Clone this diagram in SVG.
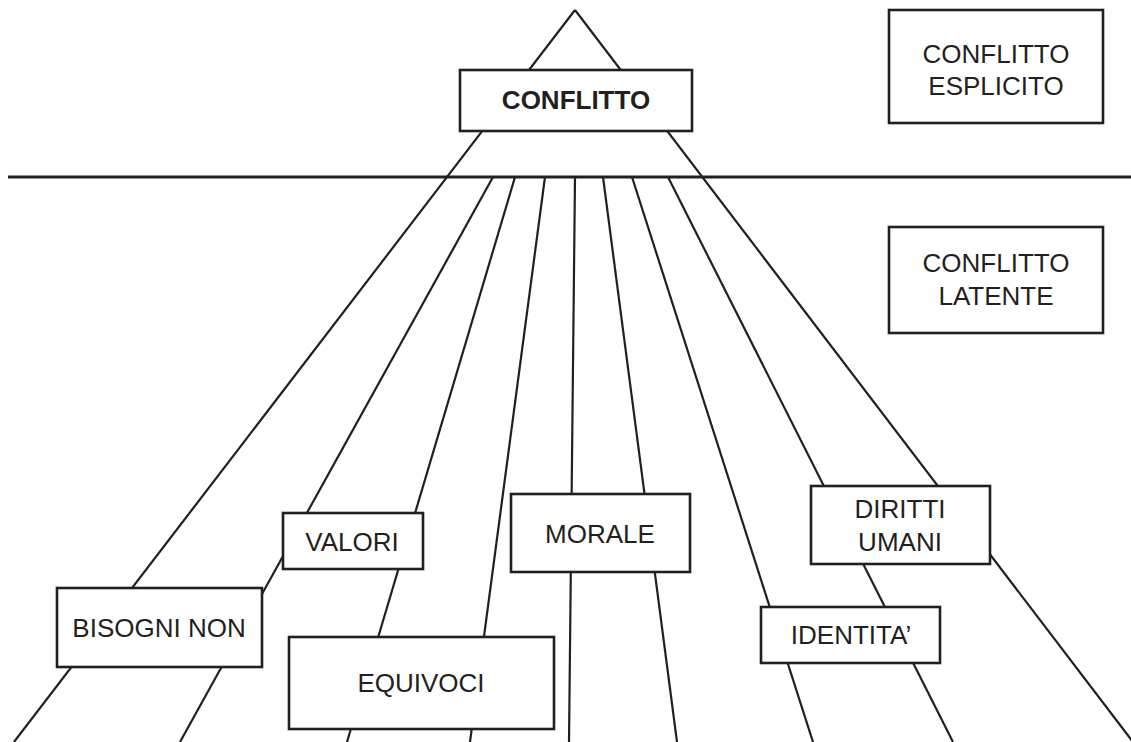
<svg xmlns="http://www.w3.org/2000/svg" width="1131" height="742" viewBox="0 0 1131 742">
<style>
.ln{stroke:#231f20;stroke-width:2.2;fill:none}
.bx{fill:#fff;stroke:#231f20;stroke-width:2.6}
.t{font-family:"Liberation Sans",Arial,sans-serif;font-size:26px;fill:#231f20;text-anchor:middle}
.b{font-weight:bold}
</style>
<rect width="1131" height="742" fill="#fff"/>
<g id="connectors">
<line class="ln" x1="575" y1="10" x2="14" y2="742"/>
<line class="ln" x1="575" y1="10" x2="1133" y2="742"/>
<line x1="8" y1="177" x2="1131" y2="177" stroke="#231f20" stroke-width="3"/>
<line class="ln" x1="493" y1="177" x2="180" y2="742"/>
<line class="ln" x1="515" y1="177" x2="347" y2="742"/>
<line class="ln" x1="545" y1="177" x2="470" y2="742"/>
<line class="ln" x1="575" y1="177" x2="569" y2="742"/>
<line class="ln" x1="603" y1="177" x2="677" y2="742"/>
<line class="ln" x1="632" y1="177" x2="813" y2="742"/>
<line class="ln" x1="668" y1="177" x2="953" y2="742"/>
</g>
<g id="conflitto">
<rect class="bx" x="460" y="70" width="232" height="61"/>
<text class="t b" x="576" y="109">CONFLITTO</text>
</g>
<g id="conflitto-esplicito">
<rect class="bx" x="889" y="10" width="214" height="113"/>
<text class="t" x="996" y="63">CONFLITTO</text>
<text class="t" x="996" y="95">ESPLICITO</text>
</g>
<g id="conflitto-latente">
<rect class="bx" x="889" y="227" width="214" height="106"/>
<text class="t" x="996" y="272">CONFLITTO</text>
<text class="t" x="996" y="305">LATENTE</text>
</g>
<g id="bisogni-non">
<rect class="bx" x="57" y="588" width="205" height="79"/>
<text class="t" x="159" y="637">BISOGNI NON</text>
</g>
<g id="valori">
<rect class="bx" x="283" y="513" width="140" height="56"/>
<text class="t" x="352" y="551">VALORI</text>
</g>
<g id="equivoci">
<rect class="bx" x="289" y="637" width="265" height="92"/>
<text class="t" x="421" y="692">EQUIVOCI</text>
</g>
<g id="morale">
<rect class="bx" x="511" y="494" width="179" height="78"/>
<text class="t" x="600" y="543">MORALE</text>
</g>
<g id="diritti-umani">
<rect class="bx" x="811" y="486" width="179" height="78"/>
<text class="t" x="900" y="518">DIRITTI</text>
<text class="t" x="900" y="551">UMANI</text>
</g>
<g id="identita">
<rect class="bx" x="761" y="607" width="179" height="56"/>
<text class="t" x="851" y="644">IDENTITA’</text>
</g>
</svg>
